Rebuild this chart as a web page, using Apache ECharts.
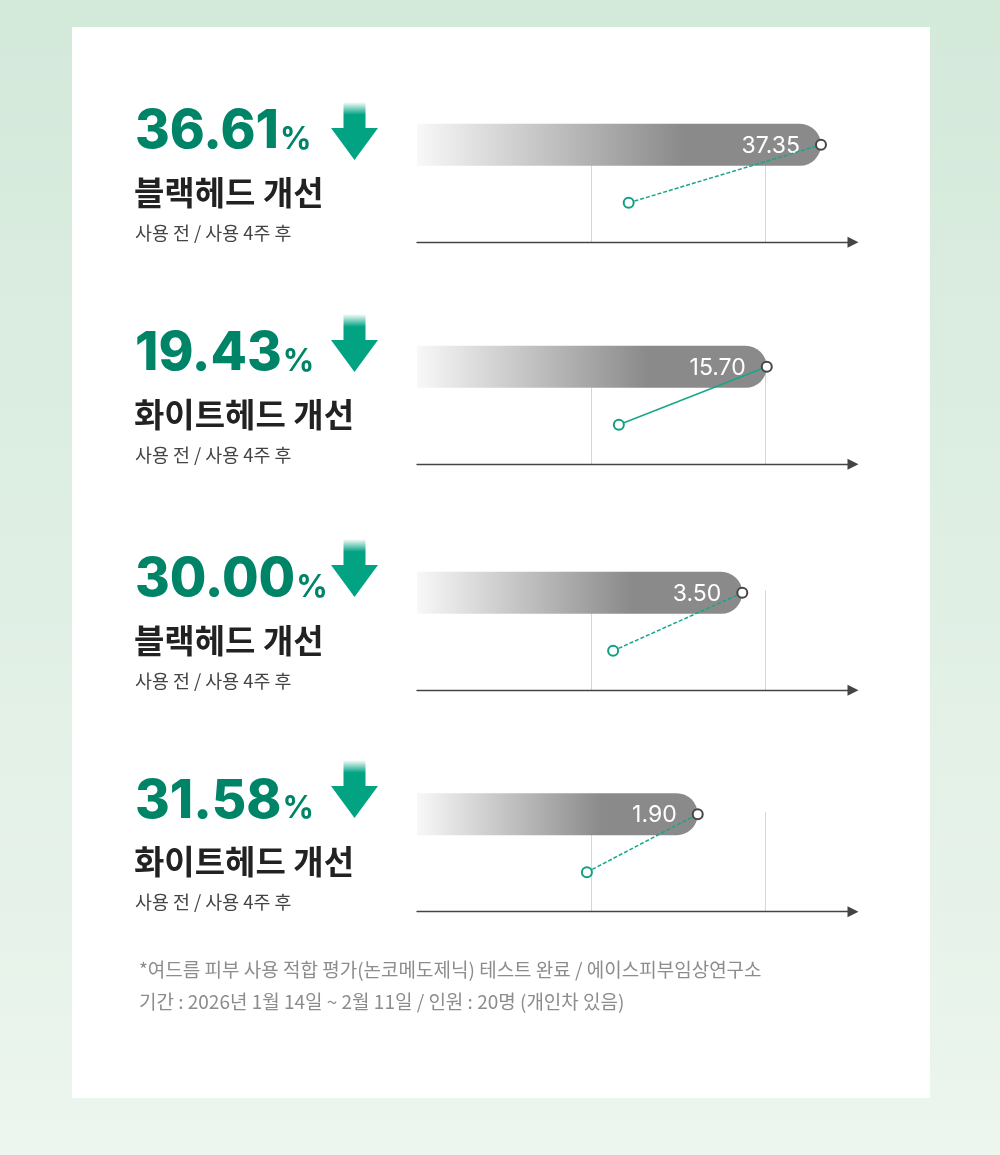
<!DOCTYPE html>
<html>
<head>
<meta charset="utf-8">
<script src="https://cdn.jsdelivr.net/npm/echarts@6/dist/echarts.min.js"></script>
<style>
  html, body { margin: 0; padding: 0; background: #e0efe4; }
  #chart { width: 1000px; height: 1155px; }
</style>
</head>
<body>
<div id="chart"></div>
<script>
// values
const reductions = ['36.61', '19.43', '30.00', '31.58']
const titles = ['블랙헤드 개선', '화이트헤드 개선', '블랙헤드 개선', '화이트헤드 개선']
const subtitle = '사용 전 / 사용 4주 후'
const beforeValues = [37.35, 15.70, 3.50, 1.90]
// where the "after 4 weeks" point sits on each panel's track (the picture is not to scale)
const afterValues = [19.57, 9.06, 2.11, 1.15]
const axisMax = [40.31, 19.57, 4.691, 2.951]
const dashedLine = [true, false, true, true]
const notes = [
    '*여드름 피부 사용 적합 평가(논코메도제닉) 테스트 완료 / 에이스피부임상연구소',
    '기간 : 2026년 1월 14일 ~ 2월 11일 / 인원 : 20명 (개인차 있음)'
]

const LATIN = 'Inter, "Noto Sans CJK KR", sans-serif'
const HANGUL = '"Noto Sans CJK KR", "Noto Sans", sans-serif'
const GREEN = '#008467'
const ARROW_GREEN = '#02a383'

const axisY = [242.3, 464.3, 690.3, 911.7]
const arrowTip = [160, 372, 597, 818]
const GRID_LEFT = 417
const GRID_W = 436
const GRID_H = 100
const BEFORE_LEVEL = 97.5
const AFTER_LEVEL = 39.5
const BAR_H = 42

const ctx = document.createElement('canvas').getContext('2d')
function textWidth(text, font) {
    ctx.font = font
    return ctx.measureText(text).width
}

let grids = [], xAxes = [], yAxes = [], series = []
let graphics = [
    {
        type: 'rect', z: -10, z2: 0, silent: true,
        shape: { x: 0, y: 0, width: 1000, height: 1155 },
        style: {
            fill: new echarts.graphic.LinearGradient(0, 0, 0, 1, [
                { offset: 0, color: '#d3e9da' },
                { offset: 1, color: '#ecf5ee' }
            ])
        }
    },
    {
        type: 'rect', z: -9, z2: 1, silent: true,
        shape: { x: 72, y: 27, width: 858, height: 1071 },
        style: { fill: '#ffffff' }
    }
]

reductions.forEach((pct, i) => {
    const base = axisY[i]
    grids.push({ left: GRID_LEFT, width: GRID_W, top: base - GRID_H, height: GRID_H })
    xAxes.push({
        type: 'value', gridIndex: i, min: 0, max: axisMax[i],
        interval: axisMax[i] * 174.35 / GRID_W,
        axisLine: {
            show: true, symbol: ['none', 'triangle'], symbolSize: [11, 11],
            lineStyle: { color: '#444444', width: 1.3 }
        },
        axisTick: { show: false },
        axisLabel: { show: false },
        splitLine: {
            show: true, showMinLine: false, showMaxLine: false,
            lineStyle: { color: '#d6d6d6', width: 1 }
        }
    })
    yAxes.push({ type: 'value', gridIndex: i, min: 0, max: 100, show: false })

    // grey gradient bar ending at the "before" value
    series.push({
        type: 'custom', xAxisIndex: i, yAxisIndex: i, clip: false, silent: true, z: 2,
        data: [[beforeValues[i], BEFORE_LEVEL]],
        renderItem: (params, api) => {
            const end = api.coord([api.value(0), api.value(1)])
            const start = api.coord([0, api.value(1)])
            return {
                type: 'group',
                children: [
                    {
                        type: 'rect',
                        shape: {
                            x: start[0], y: end[1] - BAR_H / 2,
                            width: end[0] - start[0], height: BAR_H,
                            r: [0, BAR_H / 2, BAR_H / 2, 0]
                        },
                        style: {
                            fill: new echarts.graphic.LinearGradient(0, 0, 1, 0, [
                                { offset: 0, color: '#f8f8f8' },
                                { offset: 0.66, color: '#8a8a8a' },
                                { offset: 1, color: '#8a8a8a' }
                            ])
                        }
                    },
                    {
                        type: 'text',
                        x: end[0] - 21, y: end[1] + 1,
                        style: {
                            text: api.value(0).toFixed(2),
                            fill: '#ffffff',
                            font: '400 23px ' + LATIN,
                            align: 'right', verticalAlign: 'middle'
                        }
                    }
                ]
            }
        }
    })

    // before -> after connection
    series.push({
        type: 'line', xAxisIndex: i, yAxisIndex: i, clip: false, silent: true, z: 4,
        symbol: 'circle', symbolSize: 10, showSymbol: true,
        lineStyle: { color: '#17a58b', width: 1.5, type: dashedLine[i] ? [4, 2] : 'solid' },
        itemStyle: { color: '#ffffff', borderWidth: 2 },
        emphasis: { disabled: true },
        data: [
            { value: [afterValues[i], AFTER_LEVEL], itemStyle: { borderColor: '#0f9f84' } },
            { value: [beforeValues[i], BEFORE_LEVEL], itemStyle: { borderColor: '#454545' } }
        ]
    })

    // left side texts
    const numFont = '800 53px ' + LATIN
    const numY = base - 110
    graphics.push({
        type: 'text', z: 1, z2: 5, silent: true, x: 135, y: numY,
        style: { text: pct, font: numFont, fill: GREEN, align: 'left', verticalAlign: 'middle' }
    })
    graphics.push({
        type: 'text', z: 1, z2: 5, silent: true,
        x: 135 + textWidth(pct, numFont) + 1, y: numY + 7,
        style: { text: '%', font: '700 31px ' + LATIN, fill: GREEN, align: 'left', verticalAlign: 'middle' }
    })
    const tx = 354.5, ty = arrowTip[i]
    graphics.push({
        type: 'polygon', z: 1, z2: 5, silent: true,
        shape: {
            points: [
                [tx - 11, ty - 58], [tx + 11, ty - 58], [tx + 11, ty - 32], [tx + 23.5, ty - 32],
                [tx, ty], [tx - 23.5, ty - 32], [tx - 11, ty - 32]
            ]
        },
        style: {
            fill: new echarts.graphic.LinearGradient(0, 0, 0, 1, [
                { offset: 0, color: 'rgba(2,163,131,0)' },
                { offset: 0.22, color: ARROW_GREEN },
                { offset: 1, color: ARROW_GREEN }
            ])
        }
    })
    graphics.push({
        type: 'text', z: 1, z2: 5, silent: true, x: 134, y: base - 50,
        style: { text: titles[i], font: '700 33px ' + HANGUL, fill: '#222222', align: 'left', verticalAlign: 'middle' }
    })
    graphics.push({
        type: 'text', z: 1, z2: 5, silent: true, x: 135, y: base - 9.5,
        style: { text: subtitle, font: '400 18.4px ' + HANGUL, fill: '#444444', align: 'left', verticalAlign: 'middle' }
    })
})

notes.forEach((line, k) => {
    graphics.push({
        type: 'text', z: 1, z2: 5, silent: true, x: 139, y: 970 + k * 32,
        style: { text: line, font: '400 19px ' + HANGUL, fill: '#8c8c8c', align: 'left', verticalAlign: 'middle' }
    })
})

let option = {
    animation: false,
    grid: grids,
    xAxis: xAxes,
    yAxis: yAxes,
    graphic: { elements: graphics },
    series: series
}

let chart = echarts.init(document.getElementById('chart'), null, { renderer: 'canvas' })
chart.setOption(option)
</script>
</body>
</html>
